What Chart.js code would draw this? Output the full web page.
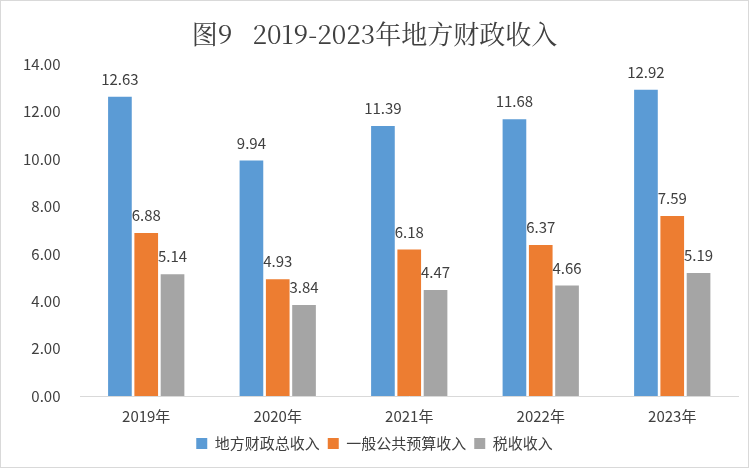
<!DOCTYPE html>
<html><head><meta charset="utf-8">
<script src="https://cdn.jsdelivr.net/npm/chart.js@4/dist/chart.umd.min.js"></script>
<style>
body{margin:0;background:#fff}
#wrap{position:absolute;left:0;top:0;width:747px;height:466px;border:1px solid #d9d9d9}
</style></head><body>
<div id="wrap"><canvas id="c" width="747" height="466"></canvas></div>
<script>
const years = ["2019年", "2020年", "2021年", "2022年", "2023年"];
const localTotal = [12.63, 9.94, 11.39, 11.68, 12.92];
const generalBudget = [6.88, 4.93, 6.18, 6.37, 7.59];
const taxIncome = [5.14, 3.84, 4.47, 4.66, 5.19];
const yTicks = [0, 2, 4, 6, 8, 10, 12, 14];

const font = "'Noto Sans CJK SC', sans-serif";

// draw the value above every bar
const valueLabels = {
  id: "valueLabels",
  afterDatasetsDraw(chart) {
    const ctx = chart.ctx;
    ctx.save();
    ctx.font = "15px " + font;
    ctx.fillStyle = "#404040";
    ctx.textAlign = "center";
    ctx.textBaseline = "bottom";
    chart.data.datasets.forEach((ds, i) => {
      chart.getDatasetMeta(i).data.forEach((bar, j) => {
        ctx.fillText(ds.data[j].toFixed(2), bar.x, bar.y - 10);
      });
    });
    ctx.restore();
  }
};

new Chart(document.getElementById("c"), {
  type: "bar",
  data: {
    labels: years,
    datasets: [
      { label: "地方财政总收入", data: localTotal, backgroundColor: "#5b9bd5" },
      { label: "一般公共预算收入", data: generalBudget, backgroundColor: "#ed7d31" },
      { label: "税收收入", data: taxIncome, backgroundColor: "#a5a5a5" }
    ]
  },
  options: {
    responsive: false,
    animation: false,
    devicePixelRatio: 1,
    categoryPercentage: 0.6,
    barPercentage: 0.9,
    layout: { padding: { left: 10, right: 10, top: 8, bottom: 6 } },
    plugins: {
      title: {
        display: true,
        text: "图9   2019-2023年地方财政收入",
        font: { family: "'Noto Serif CJK SC', 'DejaVu Serif', serif", size: 26, weight: "normal" },
        color: "#404040",
        padding: { top: 10, bottom: 14 }
      },
      legend: {
        position: "bottom",
        labels: { boxWidth: 11, boxHeight: 11, font: { family: font, size: 15 }, color: "#404040", padding: 8 }
      },
      tooltip: { enabled: false }
    },
    scales: {
      x: {
        grid: { display: false },
        border: { color: "#d9d9d9" },
        ticks: { font: { family: font, size: 15 }, color: "#404040" }
      },
      y: {
        min: 0, max: 14,
        afterBuildTicks: (axis) => { axis.ticks = yTicks.map(v => ({ value: v })); },
        grid: { display: false },
        border: { display: false },
        ticks: { font: { family: font, size: 15 }, color: "#404040", padding: 12, callback: v => v.toFixed(2) }
      }
    }
  },
  plugins: [valueLabels]
});
</script>
</body></html>
